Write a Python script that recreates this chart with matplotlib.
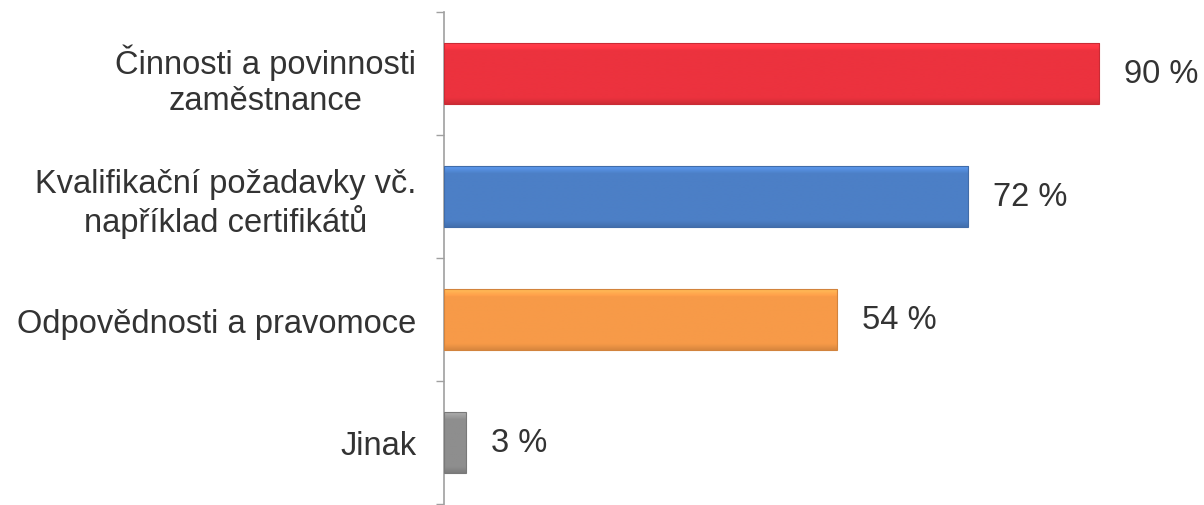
import numpy as np
import matplotlib.pyplot as plt
from matplotlib.colors import to_rgb

categories = ["Činnosti a povinnosti\nzaměstnance",
              "Kvalifikační požadavky vč.\nnapříklad certifikátů",
              "Odpovědnosti a pravomoce",
              "Jinak"]
values = [90, 72, 54, 3]
colors = ["#EC323E", "#4C7FC6", "#F79A48", "#8E8E8E"]

plt.rcParams['font.family'] = ['Liberation Sans', 'DejaVu Sans']

fig = plt.figure(figsize=(12.04, 5.06), dpi=100)
ax = fig.add_axes([444 / 1204, 1 - 505 / 506, 1 - 444 / 1204, 492 / 506])

y = np.arange(len(values))
bars = ax.barh(y, values, height=0.49, color=colors, edgecolor='none', zorder=2)

# shade each bar: light top edge, slightly darker bottom rim
for b, c in zip(bars, colors):
    r, g, bl = to_rgb(c)
    x0, y0 = b.get_x(), b.get_y()
    w, h = b.get_width(), b.get_height()
    t = np.linspace(0, 1, 80)[:, None]
    shade = 1.0 + 0.22 * np.clip(1 - t / 0.12, 0, 1) - 0.12 * np.clip((t - 0.9) / 0.1, 0, 1)
    img = np.clip(np.dstack([r * shade, g * shade, bl * shade]), 0, 1)
    im = ax.imshow(img, extent=(x0, x0 + w, y0 + h, y0), aspect='auto',
                   interpolation='bilinear', zorder=3)
    im.set_clip_path(b)
    ax.barh(b.get_y() + h / 2, w, height=h, color='none',
            edgecolor=tuple(v * 0.85 for v in (r, g, bl)), linewidth=0.8, zorder=4)

ax.set_xlim(0, 104.4)
ax.set_ylim(len(values) - 0.5, -0.5)

for b, v in zip(bars, values):
    ax.annotate(f"{v} %", (b.get_width(), b.get_y() + b.get_height() / 2),
                xytext=(18, 0), textcoords='offset points', va='center',
                ha='left', fontsize=23.5, color='#333333')

ax.set_yticks(y)
ax.set_yticklabels(categories, fontsize=23.5, color='#333333', linespacing=1.22)
for lbl in ax.get_yticklabels():
    lbl.set_multialignment('center')
ax.tick_params(axis='y', which='major', length=0, pad=20)
ax.set_yticks(np.arange(-0.5, len(values)), minor=True)
ax.tick_params(axis='y', which='minor', length=6, color='#A0A0A0', width=1)
ax.set_xticks([])

for side in ['top', 'right', 'bottom']:
    ax.spines[side].set_visible(False)
ax.spines['left'].set_color('#A0A0A0')
ax.spines['left'].set_linewidth(1.2)

fig.savefig('out.png', dpi=100)
